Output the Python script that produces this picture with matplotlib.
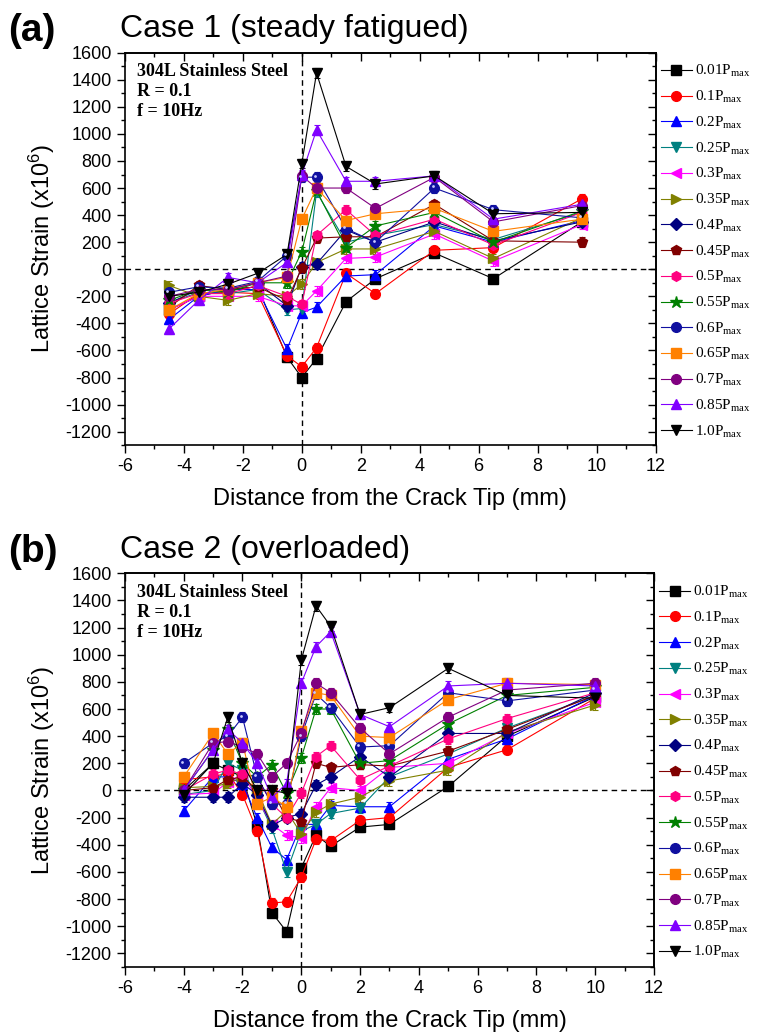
import numpy as np
import matplotlib
matplotlib.use("Agg")
import matplotlib.pyplot as plt
from matplotlib.ticker import MultipleLocator, NullFormatter

# load levels and marker styling
loads = ['0.01', '0.1', '0.2', '0.25', '0.3', '0.35', '0.4', '0.45', '0.5',
         '0.55', '0.6', '0.65', '0.7', '0.85', '1.0']

# Case 1 (steady fatigued)
x_a = [-4.5, -3.5, -2.5, -1.5, -0.5, 0, 0.5, 1.5, 2.5, 4.5, 6.5, 9.5]
case1 = [
    [-300, -200, -150, -130, -650, -800, -660, -240, -70, 120, -70, 350],
    [-330, -180, -170, -180, -640, -720, -580, -30, -180, 140, 160, 520],
    [-370, -200, -150, -150, -590, -320, -280, -50, -40, 320, 200, 360],
    [-250, -170, -180, -150, -300, -290, 570, 200, 250, 330, 220, 420],
    [-300, -200, -200, -200, -270, -270, -160, 80, 90, 260, 60, 330],
    [-120, -200, -230, -180, -200, -110, 50, 150, 150, 280, 80, 380],
    [-250, -150, -150, -100, -270, 20, 40, 290, 200, 350, 210, 350],
    [-280, -120, -150, -130, -230, 10, 230, 240, 240, 480, 210, 200],
    [-250, -180, -180, -120, -200, -260, 250, 440, 250, 370, 180, 420],
    [-230, -150, -170, -100, -100, 130, 580, 160, 320, 420, 200, 430],
    [-170, -130, -140, -90, 100, 680, 680, 300, 200, 600, 440, 380],
    [-300, -180, -150, -100, -60, 370, 600, 360, 410, 450, 280, 370],
    [-200, -150, -150, -100, -50, 690, 600, 600, 450, 680, 350, 470],
    [-440, -230, -60, -100, 50, 700, 1030, 650, 650, 690, 370, 480],
    [-200, -170, -110, -30, 110, 780, 1450, 760, 630, 690, 410, 420],
]

# Case 2 (overloaded)
x_b = [-4, -3, -2.5, -2, -1.5, -1, -0.5, 0, 0.5, 1, 2, 3, 5, 7, 10]
case2 = [
    [0, 200, 150, 100, -260, -900, -1040, -570, -330, -410, -270, -250, 30, 400, 690],
    [80, 100, 130, -30, -300, -830, -820, -640, -360, -370, -220, -200, 170, 300, 680],
    [-150, 100, 100, 50, -200, -420, -510, -250, -250, -110, -120, -120, 230, 380, 700],
    [-30, 0, 200, 150, -50, -280, -600, -300, -250, -170, -130, 100, 270, 460, 700],
    [-30, -20, 60, 120, -60, -250, -330, -350, -120, 20, 0, 170, 200, 420, 650],
    [20, 30, 50, 100, 0, -250, -150, -320, -160, -100, -50, 70, 150, 430, 630],
    [-50, -50, -50, 50, -30, -260, -200, -170, 40, 100, 250, 100, 420, 420, 720],
    [0, 20, 80, 100, 0, 0, -200, -230, 200, 170, 190, 180, 290, 450, 700],
    [0, 120, 150, 120, 100, -100, -200, -20, 250, 330, 80, 180, 380, 530, 720],
    [0, 300, 450, 200, 100, 190, -20, 240, 600, 600, 200, 220, 490, 700, 760],
    [200, 350, 400, 540, 100, -100, -100, 400, 710, 610, 320, 330, 720, 660, 740],
    [100, 420, 270, 350, -100, -50, -120, 440, 720, 700, 400, 390, 670, 790, 780],
    [0, 350, 360, 320, 270, 100, 200, 420, 790, 720, 460, 270, 540, 740, 790],
    [0, 300, 450, 350, 200, -50, 50, 790, 1060, 1170, 560, 470, 770, 790, 770],
    [-30, 200, 540, 200, 0, 0, -20, 960, 1360, 1210, 560, 610, 900, 700, 680],
]

colors = ['#000000', '#FF0000', '#0000FF', '#008080', '#FF00FF', '#808000',
          '#000080', '#800000', '#FF0080', '#008000', '#1010A0', '#FF8000',
          '#800080', '#8000FF', '#000000']
markers = ['s', 'o', '^', 'v', '<', '>', 'D', 'p', 'h', '*', 'o', 's', 'o', '^', 'v']

plt.rcParams['font.family'] = ['Liberation Sans', 'DejaVu Sans']
plt.rcParams['axes.unicode_minus'] = False

fig = plt.figure(figsize=(7.57, 10.33), dpi=100)
ax_a = fig.add_axes([0.165, 0.569, 0.701, 0.380])
ax_b = fig.add_axes([0.165, 0.064, 0.699, 0.381])


def draw_panel(ax, xs, data, tag, title):
    ax.axhline(0, color='black', lw=1.0, ls=(0, (4, 3)), zorder=1)
    ax.axvline(0, color='black', lw=1.0, ls=(0, (4, 3)), zorder=1)
    handles = []
    labels = []
    for vals, c, m, ld in zip(data, colors, markers, loads):
        ms = 7
        if m == '*':
            ms = 9
        elif m == 'D':
            ms = 6
        eb = ax.errorbar(xs, vals, yerr=35, color=c, marker=m, ms=ms, lw=0.8,
                         elinewidth=0.8, capsize=2.5, capthick=0.8,
                         mec=c, zorder=3)
        handles.append(eb[0])
        labels.append(ld + r'P$\mathregular{_{max}}$')
        if ld == '0.6':
            # dotted centre of the 0.6Pmax circles
            ax.plot(np.array(xs) - 0.06, np.array(vals) + 12, ls='none',
                    marker='o', ms=2, color='#c8c8ff', mec='none', zorder=4)
    ax.set_xlim(-6, 12)
    ax.set_ylim(-1300, 1600)
    ax.xaxis.set_major_locator(MultipleLocator(2))
    ax.xaxis.set_minor_locator(MultipleLocator(1))
    ax.set_yticks(np.arange(-1200, 1601, 200))
    ax.yaxis.set_minor_locator(MultipleLocator(100))
    ax.tick_params(which='both', direction='out', labelsize=13, width=1.0)
    ax.tick_params(which='major', length=6)
    ax.tick_params(which='minor', length=3)
    # mirrored ticks pointing inward on top and right
    top = ax.secondary_xaxis('top')
    top.xaxis.set_major_locator(MultipleLocator(2))
    top.xaxis.set_minor_locator(MultipleLocator(1))
    top.xaxis.set_major_formatter(NullFormatter())
    top.tick_params(which='both', direction='in', width=1.0)
    top.tick_params(which='major', length=6)
    top.tick_params(which='minor', length=3)
    right = ax.secondary_yaxis('right')
    right.set_yticks(np.arange(-1200, 1601, 200))
    right.yaxis.set_minor_locator(MultipleLocator(100))
    right.yaxis.set_major_formatter(NullFormatter())
    right.tick_params(which='both', direction='in', width=1.0)
    right.tick_params(which='major', length=6)
    right.tick_params(which='minor', length=3)
    for s in list(ax.spines.values()) + [top.spines['top'], right.spines['right']]:
        s.set_linewidth(1.2)
    ax.set_xlabel('Distance from the Crack Tip (mm)', fontsize=17, labelpad=9)
    ax.set_ylabel(r'Lattice Strain (x10$\mathregular{^6}$)', fontsize=17, labelpad=6)
    ax.text(0.022, 0.974, '304L Stainless Steel\nR = 0.1\nf = 10Hz',
            transform=ax.transAxes, ha='left', va='top', fontsize=13,
            fontweight='bold', family='Liberation Serif', linespacing=1.25)
    ax.legend(handles, labels, loc='upper left', bbox_to_anchor=(0.99, 1.0),
              frameon=False, prop={'family': 'Liberation Serif', 'size': 11},
              handlelength=2.0, handletextpad=0.2, labelspacing=0.63,
              borderaxespad=0.3, numpoints=1)
    ax.text(-0.22, 1.055, tag, transform=ax.transAxes, fontsize=28,
            fontweight='bold', ha='left', va='center')
    ax.text(-0.01, 1.06, title, transform=ax.transAxes, fontsize=23,
            ha='left', va='center')


draw_panel(ax_a, x_a, case1, '(a)', 'Case 1 (steady fatigued)')
draw_panel(ax_b, x_b, case2, '(b)', 'Case 2 (overloaded)')

fig.savefig('out.png', dpi=100)
